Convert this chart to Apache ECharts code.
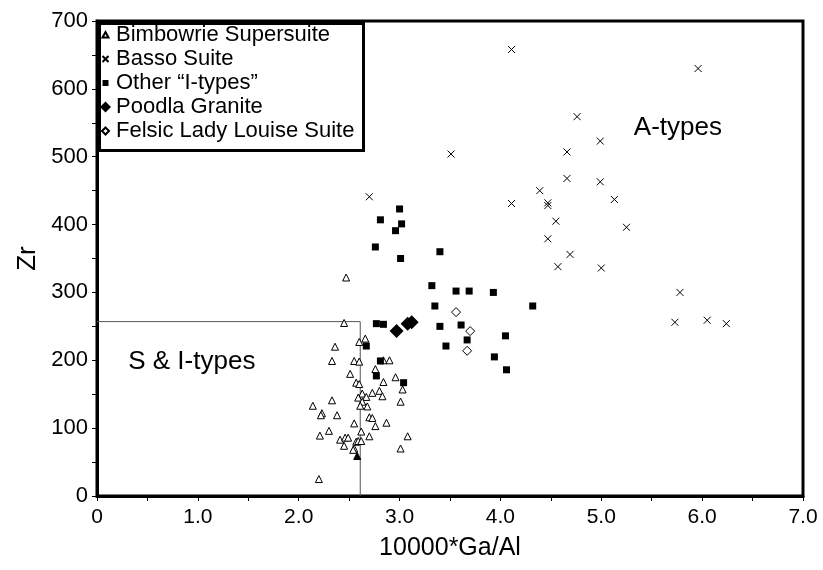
<!DOCTYPE html>
<html>
<head>
<meta charset="utf-8">
<script src="https://cdn.jsdelivr.net/npm/echarts@6/dist/echarts.min.js"></script>
<style>
html,body{margin:0;padding:0;background:#fff;}
#chart{width:823px;height:570px;}
</style>
</head>
<body>
<div id="chart"></div>
<script>
// ---- data (10000*Ga/Al, Zr) ----
var seriesNames = ['Bimbowrie Supersuite', 'Basso Suite', 'Other \u201cI-types\u201d', 'Poodla Granite', 'Felsic Lady Louise Suite'];

var bimbowrie = [
  [2.47,322],[2.45,255],[2.66,232],[2.60,227],[2.36,220],[2.33,199],[2.55,199],[2.60,198],
  [2.84,200],[2.90,200],[2.76,187],[2.51,180],[2.57,167],[2.60,165],[2.84,168],[2.96,175],
  [3.03,157],[2.63,151],[2.73,152],[2.80,155],[2.83,147],[2.67,146],[2.59,145],[2.33,141],
  [3.01,139],[2.63,139],[2.14,133],[2.61,133],[2.68,132],[2.23,122],[2.22,119],[2.38,119],
  [2.70,116],[2.73,115],[2.76,103],[2.55,107],[2.87,108],[2.21,89],[2.30,96],[2.41,83],
  [2.46,86],[2.49,86],[2.45,74],[2.55,70],[2.54,68],[2.57,80],[2.59,81],[2.62,81],
  [2.62,95],[2.70,88],[3.08,88],[3.01,70],[2.20,25]
];
var bimbowrieFilled = [[2.58,59]];

var basso = [
  [4.11,658],[5.96,630],[4.76,559],[4.99,523],[3.51,504],[4.66,507],[4.66,468],[4.99,463],
  [4.39,450],[5.13,437],[4.11,431],[4.47,432],[4.47,428],[4.55,405],[5.25,396],[4.47,379],
  [4.69,356],[4.57,338],[5.00,336],[5.78,300],[5.73,256],[6.05,259],[6.24,254],[2.70,441]
];

var otherI = [
  [3.00,423],[2.81,407],[3.02,401],[2.96,391],[2.76,367],[3.40,360],[3.01,350],[3.32,310],
  [3.56,302],[3.69,302],[3.93,300],[3.35,280],[4.32,280],[2.77,254],[2.84,253],[3.40,250],
  [3.61,252],[3.67,230],[4.05,236],[3.46,221],[2.67,221],[3.94,205],[4.06,186],[2.81,199],
  [2.77,177],[3.04,167]
];

var poodla = [[2.97,243],[3.08,254],[3.12,256]];

var felsic = [[3.56,271],[3.70,243],[3.67,214]];

// field boundary (S & I-types box)
var boundary = [[0,257],[2.61,257],[2.61,0]];

// annotations
var annotations = [
  {name: 'A-types', value: [5.76, 542]},
  {name: 'S & I-types', value: [0.94, 197]}
];

var xTicks = {min: 0, max: 7, step: 0.5};
var yTicks = {min: 0, max: 700, step: 50};

var crossPath = 'path://M0,0L10,10M10,0L0,10';

// legend icons drawn in an 11x11 box (M0,0M11,11 fixes the box)
var legendIcons = [
  'path://M0,0M11,11M2.5,8L5.5,2.5L8.5,8Z',
  'path://M0,0M11,11M2.5,2.5L8.5,8.5M8.5,2.5L2.5,8.5',
  'path://M0,0M11,11M2.5,2.5L8.5,2.5L8.5,8.5L2.5,8.5Z',
  'diamond',
  'path://M0,0M11,11M5.5,2L9,5.5L5.5,9L2,5.5Z'
];

var chart = echarts.init(document.getElementById('chart'), null, {renderer: 'canvas'});

var font = 'Liberation Sans, Arial, sans-serif';

var option = {
  backgroundColor: '#fff',
  animation: false,
  grid: {left: 97, right: 20, top: 21, bottom: 74, show: true, borderColor: '#000', borderWidth: 3, backgroundColor: 'transparent'},
  legend: {
    orient: 'vertical', left: 99, top: 24, padding: 0,
    itemWidth: 11, itemHeight: 11, itemGap: 2,
    textStyle: {fontFamily: font, fontSize: 22, color: '#000', lineHeight: 22},
    data: seriesNames.map(function (n, i) { return {name: n, icon: legendIcons[i]}; })
  },
  graphic: [{
    type: 'rect', left: 97, top: 21, z: 10, silent: true,
    shape: {width: 264, height: 127},
    style: {fill: 'none', stroke: '#000', lineWidth: 3}
  }],
  xAxis: {
    type: 'value', min: xTicks.min, max: xTicks.max, interval: xTicks.step,
    name: '10000*Ga/Al', nameLocation: 'middle', nameGap: 40,
    nameTextStyle: {fontFamily: font, fontSize: 25, color: '#000'},
    axisLine: {show: true, onZero: false, lineStyle: {color: '#000', width: 3}},
    axisTick: {show: true, length: 5, lineStyle: {color: '#000', width: 1}},
    splitLine: {show: false},
    axisLabel: {
      fontFamily: font, fontSize: 21, color: '#000', margin: 11,
      formatter: function (v) {
        if (Math.abs(v - Math.round(v)) > 1e-6) return '';
        return v === 0 ? '0' : v.toFixed(1);
      }
    }
  },
  yAxis: {
    type: 'value', min: yTicks.min, max: yTicks.max, interval: yTicks.step,
    name: 'Zr', nameLocation: 'middle', nameGap: 54, nameRotate: 90,
    nameTextStyle: {fontFamily: font, fontSize: 26, color: '#000'},
    axisLine: {show: true, onZero: false, lineStyle: {color: '#000', width: 3}},
    axisTick: {show: true, length: 5, lineStyle: {color: '#000', width: 1}},
    splitLine: {show: false},
    axisLabel: {
      fontFamily: font, fontSize: 22, color: '#000', margin: 9,
      formatter: function (v) { return (v % 100 === 0) ? String(v) : ''; }
    }
  },
  series: [
    {
      name: 'boundary', type: 'line', data: boundary, symbol: 'none', silent: true,
      lineStyle: {color: '#555', width: 1}, z: 1
    },
    {
      name: seriesNames[0], type: 'scatter', symbol: 'triangle', symbolSize: 7,
      itemStyle: {color: '#fff', borderColor: '#000', borderWidth: 1, opacity: 1},
      data: bimbowrie.concat(bimbowrieFilled.map(function (p) {
        return {value: p, itemStyle: {color: '#000'}};
      })), z: 3
    },
    {
      name: seriesNames[1], type: 'scatter', symbol: crossPath, symbolSize: 7,
      itemStyle: {color: 'rgba(0,0,0,0)', borderColor: '#000', borderWidth: 1, opacity: 1},
      data: basso, z: 3
    },
    {
      name: seriesNames[2], type: 'scatter', symbol: 'rect', symbolSize: 7,
      itemStyle: {color: '#000', opacity: 1},
      data: otherI, z: 4
    },
    {
      name: seriesNames[3], type: 'scatter', symbol: 'diamond', symbolSize: 14,
      itemStyle: {color: '#000', opacity: 1},
      data: poodla, z: 5
    },
    {
      name: seriesNames[4], type: 'scatter', symbol: 'diamond', symbolSize: 9,
      itemStyle: {color: '#fff', borderColor: '#000', borderWidth: 1, opacity: 1},
      data: felsic, z: 5
    },
    {
      name: 'annotations', type: 'scatter', symbol: 'circle', symbolSize: 1, silent: true,
      itemStyle: {color: 'rgba(0,0,0,0)', opacity: 1},
      data: annotations,
      label: {
        show: true, position: 'inside', formatter: '{b}',
        fontFamily: font, fontSize: 26, color: '#000', opacity: 1
      },
      z: 6
    }
  ]
};
chart.setOption(option);
</script>
</body>
</html>
